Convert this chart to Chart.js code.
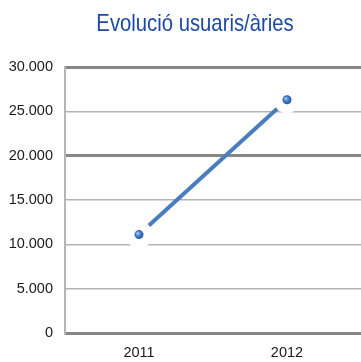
<!DOCTYPE html>
<html>
<head>
<meta charset="utf-8">
<script src="https://cdn.jsdelivr.net/npm/chart.js@4.4.1/dist/chart.umd.min.js"></script>
<style>
    body { margin: 0; background: #fff; }
    #wrap { position: relative; width: 361px; height: 362px; overflow: hidden; }
    #title {
        position: absolute;
        top: 11px;
        left: 0;
        width: 390px;
        text-align: center;
        font-family: "Liberation Sans", Arial, sans-serif;
        font-size: 24px;
        line-height: 24px;
        color: #1d48a6;
        white-space: nowrap;
        transform: scaleX(0.845);
        transform-origin: 195px 0;
    }
    canvas { display: block; }
</style>
</head>
<body>
<div id="wrap">
    <canvas id="chart" width="361" height="362"></canvas>
    <div id="title">Evolució usuaris/àries</div>
</div>
<script>
const years = ['2011', '2012'];
const users = [11100, 26300];
const yTicks = [0, 5000, 10000, 15000, 20000, 25000, 30000];
const heavyLines = [0, 20000, 30000];

const lineBlue = '#4a7dbd';

// 30.000 style thousands separator
function formatThousands(v) {
    return String(v).replace(/\B(?=(\d{3})+(?!\d))/g, '.');
}

// shaded ball for the markers
function markerFill(ctx) {
    const chart = ctx.chart;
    if (ctx.type !== 'data' || !chart.scales.x || !chart.scales.y) return '#3b6fb6';
    const x = chart.scales.x.getPixelForValue(ctx.dataIndex);
    const y = chart.scales.y.getPixelForValue(ctx.parsed.y);
    if (!isFinite(x) || !isFinite(y)) return '#3b6fb6';
    const g = chart.ctx.createRadialGradient(x - 1.5, y - 1.5, 0.5, x, y, 5);
    g.addColorStop(0, '#9cc2ee');
    g.addColorStop(0.5, '#3f78c4');
    g.addColorStop(1, '#1f4f96');
    return g;
}

const isHeavy = (c) => c.tick && heavyLines.includes(c.tick.value);

new Chart(document.getElementById('chart'), {
    type: 'line',
    data: {
        labels: years,
        datasets: [
            {
                // markers on top
                data: users,
                showLine: false,
                pointRadius: 4.5,
                pointBorderWidth: 0,
                pointBackgroundColor: markerFill,
                order: 0
            },
            {
                // white ring that breaks the line and gridlines around each marker
                data: users,
                showLine: false,
                pointRadius: 13.5,
                pointBorderWidth: 0,
                pointBackgroundColor: '#ffffff',
                order: 1
            },
            {
                data: users,
                borderColor: lineBlue,
                borderWidth: 4,
                pointRadius: 0,
                fill: false,
                tension: 0,
                order: 2
            }
        ]
    },
    options: {
        responsive: false,
        animation: false,
        events: [],
        layout: {
            autoPadding: false,
            padding: { top: 67, right: 0, bottom: 0, left: 8 }
        },
        plugins: {
            legend: { display: false },
            tooltip: { enabled: false },
            title: { display: false }
        },
        scales: {
            x: {
                offset: true,
                grid: { display: false, drawTicks: false },
                border: { display: false },
                ticks: {
                    padding: 11,
                    color: '#1a1a1a',
                    font: { family: 'Liberation Sans', size: 14.5 }
                },
                afterFit: (axis) => {
                    axis.height = 29;
                    axis.paddingLeft = 0;
                    axis.paddingRight = 0;
                }
            },
            y: {
                min: 0,
                max: 30000,
                afterBuildTicks: (axis) => {
                    axis.ticks = yTicks.map(v => ({ value: v }));
                },
                grid: {
                    drawTicks: false,
                    color: (c) => isHeavy(c) ? '#878787' : '#b3b3b3',
                    lineWidth: (c) => isHeavy(c) ? 3 : 1.6
                },
                border: { display: true, color: '#b5b5b5', width: 2 },
                ticks: {
                    padding: 12,
                    color: '#1a1a1a',
                    font: { family: 'Liberation Sans', size: 14.5 },
                    callback: (v) => formatThousands(v)
                },
                afterFit: (axis) => {
                    axis.width = 57;
                    axis.paddingTop = 0;
                    axis.paddingBottom = 0;
                }
            }
        }
    }
});
</script>
</body>
</html>
